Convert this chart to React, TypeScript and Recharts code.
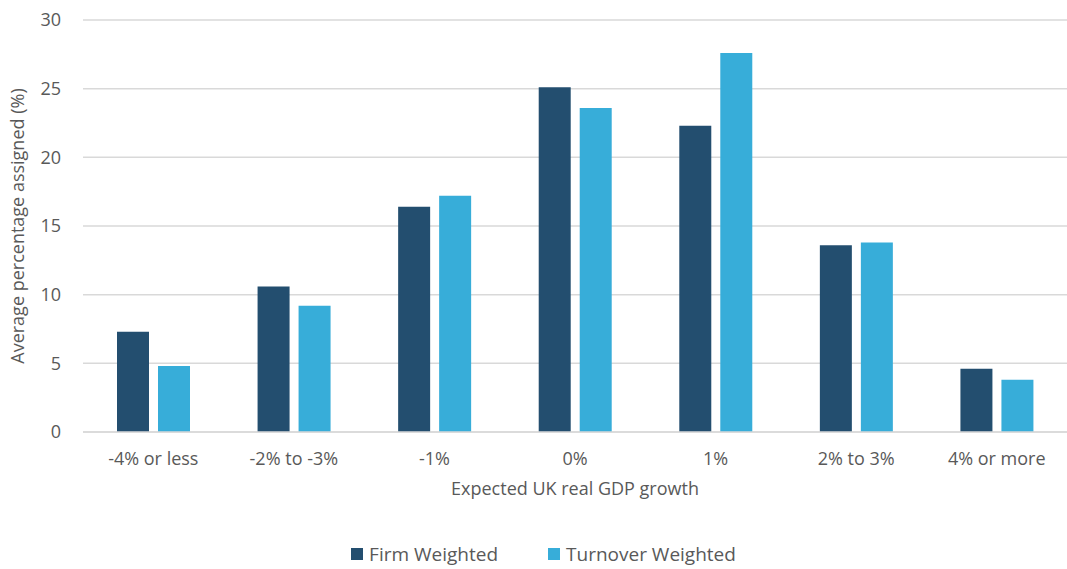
import { BarChart, Bar, XAxis, YAxis, CartesianGrid, Legend } from 'recharts';

const categories = ['-4% or less', '-2% to -3%', '-1%', '0%', '1%', '2% to 3%', '4% or more'];
const firmWeighted = [7.3, 10.6, 16.4, 25.1, 22.3, 13.6, 4.6];
const turnoverWeighted = [4.8, 9.2, 17.2, 23.6, 27.6, 13.8, 3.8];
const yTicks = [0, 5, 10, 15, 20, 25, 30];

const DARK = '#234E6F';
const LIGHT = '#37ADD9';
const TEXT = '#595959';
const FONT = '"Open Sans", sans-serif';

const chartData = categories.map((name, i) => ({
  name,
  firm: firmWeighted[i],
  turnover: turnoverWeighted[i],
}));

function LegendContent() {
  const items = [
    { label: 'Firm Weighted', color: DARK },
    { label: 'Turnover Weighted', color: LIGHT },
  ];
  return (
    <div style={{ display: 'flex', justifyContent: 'center', gap: 50, marginTop: 30, paddingLeft: 20, fontFamily: FONT, fontSize: 19, lineHeight: '24px', color: TEXT }}>
      {items.map(item => (
        <div key={item.label} style={{ display: 'flex', alignItems: 'center' }}>
          <span style={{ width: 12, height: 12, background: item.color, display: 'inline-block', marginRight: 6 }} />
          <span>{item.label}</span>
        </div>
      ))}
    </div>
  );
}

export default function App() {
  return (
    <div style={{ position: 'absolute', left: 0, top: 0, background: '#fff' }}>
      <BarChart
        width={1067}
        height={569}
        data={chartData}
        margin={{ top: 20, right: 0, left: 0, bottom: 0 }}
        barSize={32}
        barGap={9}
      >
        <CartesianGrid vertical={false} stroke="#D9D9D9" strokeWidth={1.5} />
        <XAxis
          dataKey="name"
          height={80}
          tickLine={false}
          axisLine={{ stroke: '#D9D9D9', strokeWidth: 1.5 }}
          tick={{ fill: TEXT, fontSize: 18, fontFamily: FONT }}
          tickMargin={14}
          interval={0}
          label={{ value: 'Expected UK real GDP growth', position: 'insideTop', offset: 50, fill: TEXT, fontSize: 18, fontFamily: FONT }}
        />
        <YAxis
          width={83}
          domain={[0, 30]}
          ticks={yTicks}
          tickLine={false}
          axisLine={false}
          tick={{ fill: TEXT, fontSize: 18, fontFamily: FONT }}
          tickMargin={16}
          label={{ value: 'Average percentage assigned (%)', angle: -90, position: 'insideLeft', offset: 18, style: { textAnchor: 'middle' }, fill: TEXT, fontSize: 18, fontFamily: FONT }}
        />
        <Legend verticalAlign="bottom" content={<LegendContent />} wrapperStyle={{ height: 57 }} />
        <Bar dataKey="firm" name="Firm Weighted" fill={DARK} isAnimationActive={false} />
        <Bar dataKey="turnover" name="Turnover Weighted" fill={LIGHT} isAnimationActive={false} />
      </BarChart>
    </div>
  );
}
